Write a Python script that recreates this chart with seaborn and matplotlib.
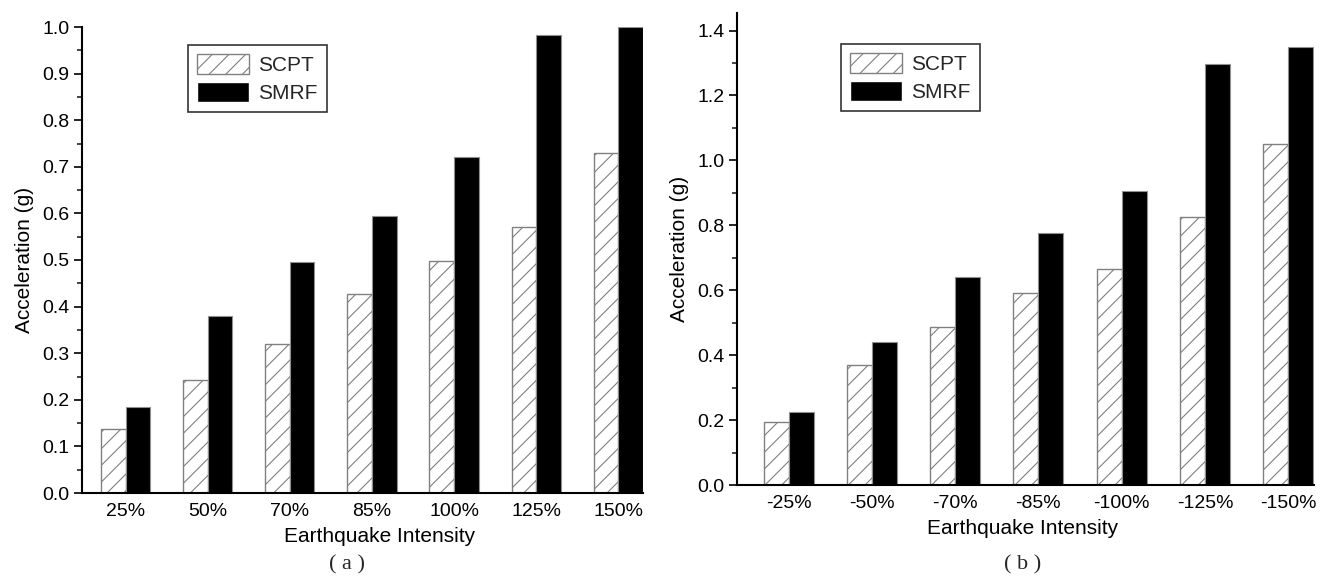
import matplotlib
matplotlib.use("Agg")
import matplotlib.pyplot as plt
import seaborn as sns
import pandas as pd
from matplotlib.ticker import MultipleLocator

sns.set_theme(style="white")
plt.rcParams['font.family'] = ['Liberation Sans', 'DejaVu Sans']
plt.rcParams['hatch.color'] = '#808080'
plt.rcParams['hatch.linewidth'] = 0.8

series = ["SCPT", "SMRF"]
cats_a = ["25%", "50%", "70%", "85%", "100%", "125%", "150%"]
scpt_a = [0.137, 0.242, 0.320, 0.428, 0.497, 0.571, 0.730]
smrf_a = [0.185, 0.379, 0.495, 0.595, 0.720, 0.983, 1.000]

cats_b = ["-25%", "-50%", "-70%", "-85%", "-100%", "-125%", "-150%"]
scpt_b = [0.195, 0.370, 0.488, 0.590, 0.665, 0.827, 1.051]
smrf_b = [0.225, 0.440, 0.640, 0.775, 0.905, 1.297, 1.349]


def make_df(cats, a, b):
    return pd.DataFrame({
        "cat": cats + cats,
        "val": a + b,
        "series": [series[0]] * len(cats) + [series[1]] * len(cats),
    })


fig = plt.figure(figsize=(13.29, 5.76), dpi=100)
W, H = 1329, 576
ax1 = fig.add_axes([82 / W, 1 - 493 / H, (643 - 82) / W, (493 - 27) / H])
ax2 = fig.add_axes([737 / W, 1 - 485 / H, (1314 - 737) / W, (485 - 13) / H])


def draw(ax, df, cats, ylim, major, minor, xlim, label, legend_pos,
         xlab_xy, lab_xy):
    sns.barplot(data=df, x="cat", y="val", hue="series", order=cats,
                hue_order=series, palette={"SCPT": "white", "SMRF": "black"},
                width=0.6, dodge=True, ax=ax, legend=True, saturation=1)
    n = len(cats)
    for i, p in enumerate(ax.patches[:2 * n]):
        if i < n:
            p.set_hatch("//")
            p.set_edgecolor("#808080")
            p.set_linewidth(1.0)
        else:
            p.set_edgecolor("#909090")
            p.set_linewidth(0.8)
    ax.set_ylim(*ylim)
    ax.set_xlim(*xlim)
    ax.yaxis.set_major_locator(MultipleLocator(major))
    ax.yaxis.set_minor_locator(MultipleLocator(minor))
    ax.yaxis.set_major_formatter(matplotlib.ticker.FormatStrFormatter('%.1f'))
    ax.tick_params(axis='y', which='major', direction='out', length=6, width=1.2,
                   left=True, labelsize=14, colors='black', pad=3)
    ax.tick_params(axis='y', which='minor', direction='out', length=3.5, width=1.2,
                   left=True)
    ax.tick_params(axis='x', which='both', bottom=False, length=0, labelsize=14,
                   pad=7, colors='black')
    for s in ["top", "right"]:
        ax.spines[s].set_visible(False)
    for s in ["left", "bottom"]:
        ax.spines[s].set_visible(True)
        ax.spines[s].set_color("black")
        ax.spines[s].set_linewidth(1.5)
    ax.set_ylabel("Acceleration (g)", fontsize=15, labelpad=6, color='black')
    ax.set_xlabel("Earthquake Intensity", fontsize=15, color='black')
    bb = ax.get_position()
    ax.xaxis.set_label_coords((xlab_xy[0] / W - bb.x0) / bb.width,
                              ((1 - xlab_xy[1] / H) - bb.y0) / bb.height)
    ax.xaxis.label.set_va("center")
    leg = ax.legend(loc="upper left", bbox_to_anchor=legend_pos, fontsize=15,
                    frameon=True, fancybox=False, edgecolor="black",
                    handlelength=2.5, handleheight=1.1, handletextpad=0.4,
                    borderpad=0.45, labelspacing=0.3, borderaxespad=0)
    leg.get_frame().set_linewidth(1.2)
    leg.legend_handles[0].set_hatch("//")
    leg.legend_handles[0].set_edgecolor("#808080")
    fig.text(lab_xy[0] / W, 1 - lab_xy[1] / H,
             label, ha="center", va="center", fontsize=16,
             family=["Liberation Serif", "DejaVu Serif"])


draw(ax1, make_df(cats_a, scpt_a, smrf_a), cats_a, (0, 1.0), 0.1, 0.05,
     (-0.53, 6.3), "( a )", ((188 - 82) / (643 - 82), (493 - 45) / (493 - 27)),
     (380, 537), (347, 565))
draw(ax2, make_df(cats_b, scpt_b, smrf_b), cats_b, (0, 1.454), 0.2, 0.1,
     (-0.62, 6.31), "( b )", ((841 - 737) / (1314 - 737), (485 - 44) / (485 - 13)),
     (1023, 529), (1023, 565))

fig.savefig("out.png", dpi=100)
